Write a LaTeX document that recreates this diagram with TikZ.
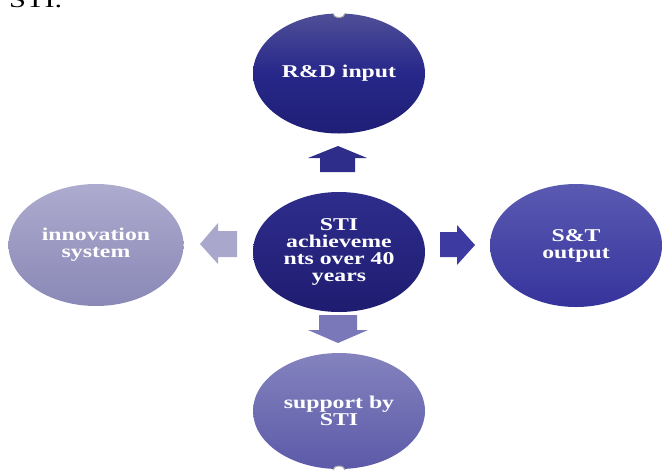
\documentclass[tikz,border=0pt]{standalone}
\usepackage{fontspec}
\setmainfont{Liberation Serif}
\newfontfamily\lbl[FakeStretch=1.32]{Liberation Serif}
\usetikzlibrary{shapes.geometric}
\definecolor{topA}{HTML}{4F4F98}\definecolor{topB}{HTML}{27278A}\definecolor{topC}{HTML}{1F1F76}
\definecolor{cenA}{HTML}{2E2D8C}\definecolor{cenB}{HTML}{1E1C70}
\definecolor{rgtA}{HTML}{5A5AB2}\definecolor{rgtB}{HTML}{36349C}
\definecolor{botA}{HTML}{8483BE}\definecolor{botB}{HTML}{5C5AA8}
\definecolor{lftA}{HTML}{ADABCE}\definecolor{lftB}{HTML}{8A88B6}
\definecolor{arrUp}{HTML}{2E2D8A}\definecolor{arrRt}{HTML}{3D3BA2}
\definecolor{arrDn}{HTML}{7A78B8}\definecolor{arrLt}{HTML}{A9A7CC}
\tikzset{
  bubble/.style={ellipse, inner sep=0pt, minimum width=172pt, minimum height=120pt,
    align=center, text=white, font=\lbl\bfseries\fontsize{18}{17}\selectfont},
  handlefill/.style={fill=white},
  handleline/.style={draw=gray!70, line width=1pt}
}
\begin{document}
\begin{tikzpicture}[x=1pt,y=-1pt]
\useasboundingbox (0,0) rectangle (663,472);
\clip (0,0) rectangle (663,472);
\node[anchor=base west, inner sep=0pt, font=\lbl\fontsize{23}{23}\selectfont] (cap) at (9,7) {STI.};
% bubbles
\node[bubble, top color=topA, bottom color=topC, middle color=topB] (rd) at (339,73.5) {R\&D input};
\node[bubble, top color=cenA, bottom color=cenB] (sti) at (339,252) {STI\\achieveme\\nts over 40\\years};
\node[bubble, top color=rgtA, bottom color=rgtB, minimum height=123pt] (st) at (576,245.5) {S\&T\\output};
\node[bubble, top color=botA, bottom color=botB, minimum height=116pt] (sup) at (339,411) {support by\\STI};
\node[bubble, top color=lftA, bottom color=lftB, minimum width=175pt, minimum height=122pt] (inn) at (96,245) {innovation\\system};
% handles
\path[handlefill] (339,13.5) ellipse [x radius=6pt, y radius=4pt];
\draw[handleline] (333,13.5) arc[start angle=180, end angle=360, x radius=6pt, y radius=4pt];
\path[handlefill] (339,470) ellipse [x radius=6pt, y radius=4pt];
\draw[handleline] (345,470) arc[start angle=0, end angle=180, x radius=6pt, y radius=4pt];
% block arrows
\fill[arrUp] (320,172) -- (320,158) -- (308,158) -- (338,146) -- (367,158) -- (355,158) -- (355,172) -- cycle;
\fill[arrDn] (319,315) -- (357,315) -- (357,330) -- (368,330) -- (338,343) -- (308,330) -- (319,330) -- cycle;
\fill[arrLt] (237,231) -- (218,231) -- (218,223) -- (200,244) -- (218,264) -- (218,257) -- (237,257) -- cycle;
\fill[arrRt] (440,232) -- (457,232) -- (457,225) -- (475,245) -- (457,265) -- (457,257) -- (440,257) -- cycle;
\end{tikzpicture}
\end{document}
